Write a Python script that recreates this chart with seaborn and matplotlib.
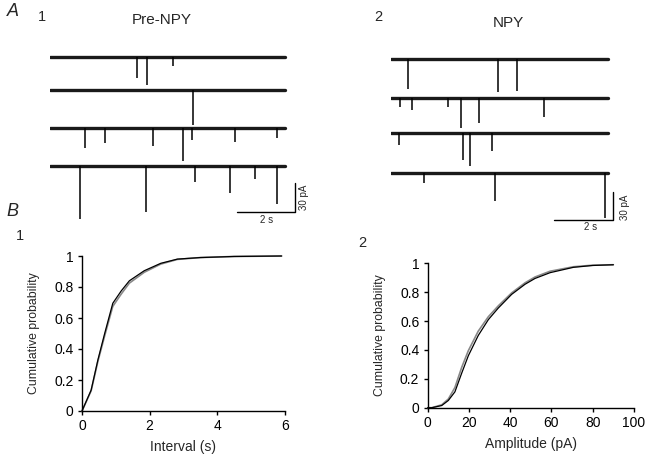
import pandas as pd
import seaborn as sns
import matplotlib
matplotlib.use("Agg")
import matplotlib.pyplot as plt

# ---- A: example sweeps (event time s, amplitude pA) ----
pre_sweep_len = 8.1
pre_offsets = [0, -34, -73, -113]
pre_events = [
    [(3.0, 22), (3.33, 29), (4.25, 9)],
    [(4.94, 36)],
    [(1.21, 21), (1.9, 16), (3.56, 19), (4.6, 35), (4.89, 13), (6.38, 14.5), (7.82, 11)],
    [(1.03, 54.5), (3.31, 47.6), (5.0, 16.5), (6.21, 28), (7.07, 13), (7.84, 39)],
]

npy_sweep_len = 7.36
npy_offsets = [0, -42, -79, -122]
npy_events = [
    [(0.56, 32), (3.64, 35), (4.28, 34)],
    [(0.31, 9), (0.71, 12.5), (1.92, 9), (2.38, 32), (2.98, 27), (5.2, 20)],
    [(0.28, 13), (2.44, 29), (2.69, 36), (3.41, 20)],
    [(1.11, 11), (3.53, 30), (7.26, 48)],
]

# ---- B: cumulative distributions ----
interval_s = [0, 0.27, 0.47, 0.67, 0.91, 1.16, 1.40, 1.84, 2.33, 2.82, 3.5, 4.5, 5.9]
interval_pre = [0, 0.135, 0.33, 0.50, 0.695, 0.775, 0.84, 0.905, 0.953, 0.98, 0.99, 0.997, 1.0]
interval_npy = [0, 0.13, 0.32, 0.485, 0.675, 0.755, 0.825, 0.895, 0.948, 0.978, 0.99, 0.997, 1.0]

amp_pa = [0, 2, 6.8, 10, 13.2, 16.5, 19.7, 24.5, 29.4, 34.2, 40.7, 47.2, 52, 59.3, 70.6, 80, 90]
amp_pre = [0, 0, 0.015, 0.05, 0.11, 0.24, 0.36, 0.50, 0.61, 0.69, 0.785, 0.855, 0.895, 0.935, 0.972, 0.985, 0.99]
amp_npy = [0, 0, 0.02, 0.06, 0.14, 0.28, 0.395, 0.53, 0.63, 0.705, 0.795, 0.865, 0.905, 0.945, 0.976, 0.987, 0.99]

W, H = 648, 462
sns.set_theme(style="white")
plt.rcParams["font.family"] = ["Liberation Sans", "DejaVu Sans"]
fig = plt.figure(figsize=(W / 100, H / 100), dpi=100)


def px_axes(x0, y0, x1, y1):
    return fig.add_axes([x0 / W, 1 - y1 / H, (x1 - x0) / W, (y1 - y0) / H])


def ftext(x, y, s, **kw):
    fig.text(x / W, 1 - y / H, s, **kw)


def draw_sweeps(ax, length, offsets, events):
    for off, evs in zip(offsets, events):
        sns.lineplot(x=[0, length], y=[off, off], color="#1a1a1a", lw=2.4, ax=ax)
        for t, a in evs:
            ax.vlines(t, off - a, off, color="black", lw=1.1)
    ax.set_axis_off()


# A1
axA1 = px_axes(50, 40, 310, 225)
draw_sweeps(axA1, pre_sweep_len, pre_offsets, pre_events)
axA1.set_xlim(0, 260 / 29)
axA1.set_ylim(-173.7, 17.6)
axA1.plot([6.45, 8.45, 8.45], [-160, -160, -130], color="black", lw=1)

# A2
axA2 = px_axes(391, 40, 630, 228)
draw_sweeps(axA2, npy_sweep_len, npy_offsets, npy_events)
axA2.set_xlim(0, 239 / 29.5)
axA2.set_ylim(-181.1, 20.4)
axA2.plot([5.53, 7.53, 7.53], [-172.6, -172.6, -142.6], color="black", lw=1)


def style_cdf(ax):
    for s in ["top", "right"]:
        ax.spines[s].set_visible(False)
    for s in ["left", "bottom"]:
        ax.spines[s].set_color("black")
        ax.spines[s].set_linewidth(1)
    ax.tick_params(direction="out", length=3, width=1, colors="black",
                   labelsize=10, pad=3, left=True, bottom=True)
    ax.set_ylim(0, 1)
    ax.set_yticks([0, 0.2, 0.4, 0.6, 0.8, 1])
    ax.set_yticklabels(["0", "0.2", "0.4", "0.6", "0.8", "1"])
    ax.set_ylabel("Cumulative probability", fontsize=8.8, labelpad=10)
    ax.grid(False)


# B1
axB1 = px_axes(82, 256, 285, 411)
sns.lineplot(x=interval_s, y=interval_npy, color="#888888", lw=1.2, ax=axB1, clip_on=False)
sns.lineplot(x=interval_s, y=interval_pre, color="black", lw=0.9, ax=axB1, clip_on=False)
axB1.set_xlim(0, 6)
axB1.set_xticks([0, 2, 4, 6])
style_cdf(axB1)
axB1.set_xlabel("Interval (s)", fontsize=10, labelpad=5)

# B2
axB2 = px_axes(427.7, 263.3, 634, 407.7)
sns.lineplot(x=amp_pa, y=amp_npy, color="#888888", lw=1.2, ax=axB2, clip_on=False)
sns.lineplot(x=amp_pa, y=amp_pre, color="black", lw=0.9, ax=axB2, clip_on=False)
axB2.set_xlim(0, 100)
axB2.set_xticks([0, 20, 40, 60, 80, 100])
style_cdf(axB2)
axB2.set_xlabel("Amplitude (pA)", fontsize=10, labelpad=5)

# labels
ftext(13, 12, "A", fontsize=13, style="italic", va="center", ha="center")
ftext(12, 212, "B", fontsize=13, style="italic", va="center", ha="center")
ftext(42, 17, "1", fontsize=10.5, va="center", ha="center")
ftext(162, 20, "Pre-NPY", fontsize=11, va="center", ha="center")
ftext(378, 17, "2", fontsize=10.5, va="center", ha="center")
ftext(508, 23, "NPY", fontsize=11, va="center", ha="center")
ftext(20, 236, "1", fontsize=10.5, va="center", ha="center")
ftext(362, 243, "2", fontsize=10.5, va="center", ha="center")
ftext(267, 220, "2 s", fontsize=7, va="center", ha="center")
ftext(304, 197, "30 pA", fontsize=7, va="center", ha="center", rotation=90)
ftext(591, 227, "2 s", fontsize=7, va="center", ha="center")
ftext(625, 207, "30 pA", fontsize=7, va="center", ha="center", rotation=90)

fig.savefig("out.png", dpi=100, facecolor="white")
